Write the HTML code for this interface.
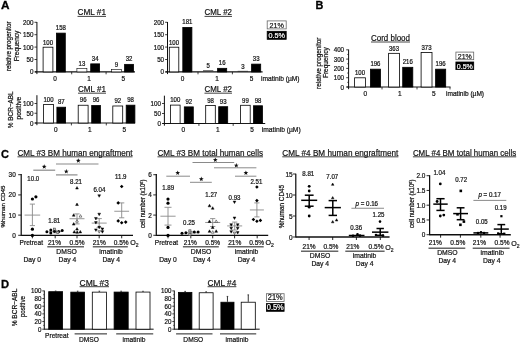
<!DOCTYPE html>
<html><head><meta charset="utf-8"><title>Figure</title>
<style>
html,body{margin:0;padding:0;background:#fff;}
body{width:520px;height:343px;overflow:hidden;font-family:"Liberation Sans",sans-serif;}
svg{display:block;will-change:transform;font-family:"Liberation Sans",sans-serif;}
</style></head><body>
<svg width="520" height="343" viewBox="0 0 520 343">
<defs><filter id="bl" x="0" y="0" width="100%" height="100%" filterUnits="userSpaceOnUse"><feGaussianBlur stdDeviation="0.38"/></filter></defs>
<rect x="0" y="0" width="520" height="343" fill="#fff"/>
<g filter="url(#bl)">
<text transform="translate(1,9.3) scale(1,1)" font-size="11.8" font-weight="bold" fill="#000" stroke="#000" stroke-width="0.3">A</text>
<text x="91.75" y="15.3" font-size="8.8" text-anchor="middle" fill="#111" stroke="#111" stroke-width="0.2" textLength="28.5" lengthAdjust="spacingAndGlyphs">CML #1</text>
<line x1="77.5" y1="16.4" x2="106" y2="16.4" stroke="#111" stroke-width="0.8"/>
<text transform="translate(10.5,46.3) rotate(-90) scale(0.94,1)" font-size="6.6" text-anchor="middle" fill="#111" stroke="#111" stroke-width="0.22">relative progenitor</text>
<text transform="translate(18.8,46) rotate(-90) scale(0.93,1)" font-size="7" text-anchor="middle" fill="#111" stroke="#111" stroke-width="0.22">Frequency</text>
<line x1="36.9" y1="22" x2="36.9" y2="74.1" stroke="#111" stroke-width="1.0"/>
<line x1="34.9" y1="71.9" x2="135" y2="71.9" stroke="#111" stroke-width="1.1"/>
<line x1="34.5" y1="71.9" x2="36.9" y2="71.9" stroke="#111" stroke-width="0.8"/>
<text transform="translate(33.5,74.49) scale(0.87,1)" font-size="7.2" text-anchor="end" fill="#111" stroke="#111" stroke-width="0.22">0</text>
<line x1="34.5" y1="59.5" x2="36.9" y2="59.5" stroke="#111" stroke-width="0.8"/>
<text transform="translate(33.5,62.09) scale(0.87,1)" font-size="7.2" text-anchor="end" fill="#111" stroke="#111" stroke-width="0.22">50</text>
<line x1="34.5" y1="47.1" x2="36.9" y2="47.1" stroke="#111" stroke-width="0.8"/>
<text transform="translate(33.5,49.69) scale(0.87,1)" font-size="7.2" text-anchor="end" fill="#111" stroke="#111" stroke-width="0.22">100</text>
<line x1="34.5" y1="34.7" x2="36.9" y2="34.7" stroke="#111" stroke-width="0.8"/>
<text transform="translate(33.5,37.29) scale(0.87,1)" font-size="7.2" text-anchor="end" fill="#111" stroke="#111" stroke-width="0.22">150</text>
<line x1="34.5" y1="22.3" x2="36.9" y2="22.3" stroke="#111" stroke-width="0.8"/>
<text transform="translate(33.5,24.89) scale(0.87,1)" font-size="7.2" text-anchor="end" fill="#111" stroke="#111" stroke-width="0.22">200</text>
<line x1="71.7" y1="71.9" x2="71.7" y2="74.3" stroke="#111" stroke-width="0.8"/>
<line x1="106.1" y1="71.9" x2="106.1" y2="74.3" stroke="#111" stroke-width="0.8"/>
<rect x="43.1" y="47.2" width="9.8" height="24.7" fill="#fff" stroke="#000" stroke-width="0.8"/>
<text transform="translate(48,44.5) scale(0.9,1)" font-size="6.7" text-anchor="middle" fill="#111" stroke="#111" stroke-width="0.22">100</text>
<rect x="56.4" y="33.12" width="8.9" height="38.78" fill="#000" stroke="#000" stroke-width="0.8"/>
<text transform="translate(60.85,30.12) scale(0.9,1)" font-size="6.7" text-anchor="middle" fill="#111" stroke="#111" stroke-width="0.22">158</text>
<rect x="76.9" y="68.58" width="10" height="3.32" fill="#fff" stroke="#000" stroke-width="0.6"/>
<text transform="translate(81.9,66.08) scale(0.9,1)" font-size="6.7" text-anchor="middle" fill="#111" stroke="#111" stroke-width="0.22">13</text>
<rect x="90.7" y="63.87" width="8.9" height="8.03" fill="#000" stroke="#000" stroke-width="0.8"/>
<text transform="translate(95.15,60.87) scale(0.9,1)" font-size="6.7" text-anchor="middle" fill="#111" stroke="#111" stroke-width="0.22">34</text>
<rect x="111.5" y="69.57" width="10" height="2.33" fill="#fff" stroke="#000" stroke-width="0.6"/>
<text transform="translate(116.5,67.07) scale(0.9,1)" font-size="6.7" text-anchor="middle" fill="#111" stroke="#111" stroke-width="0.22">9</text>
<rect x="124.6" y="64.36" width="8.9" height="7.54" fill="#000" stroke="#000" stroke-width="0.8"/>
<text transform="translate(129.05,61.36) scale(0.9,1)" font-size="6.7" text-anchor="middle" fill="#111" stroke="#111" stroke-width="0.22">32</text>
<text transform="translate(55,81) scale(0.9,1)" font-size="7.2" text-anchor="middle" fill="#111" stroke="#111" stroke-width="0.22">0</text>
<text transform="translate(89,81) scale(0.9,1)" font-size="7.2" text-anchor="middle" fill="#111" stroke="#111" stroke-width="0.22">1</text>
<text transform="translate(123.4,81) scale(0.9,1)" font-size="7.2" text-anchor="middle" fill="#111" stroke="#111" stroke-width="0.22">5</text>
<text x="218.25" y="15.3" font-size="8.8" text-anchor="middle" fill="#111" stroke="#111" stroke-width="0.2" textLength="27.5" lengthAdjust="spacingAndGlyphs">CML #2</text>
<line x1="204.5" y1="16.4" x2="232" y2="16.4" stroke="#111" stroke-width="0.8"/>
<line x1="167.5" y1="22" x2="167.5" y2="74.1" stroke="#111" stroke-width="1.0"/>
<line x1="165.5" y1="71.9" x2="262.6" y2="71.9" stroke="#111" stroke-width="1.1"/>
<line x1="165.1" y1="71.9" x2="167.5" y2="71.9" stroke="#111" stroke-width="0.8"/>
<text transform="translate(164.1,74.49) scale(0.87,1)" font-size="7.2" text-anchor="end" fill="#111" stroke="#111" stroke-width="0.22">0</text>
<line x1="165.1" y1="59.5" x2="167.5" y2="59.5" stroke="#111" stroke-width="0.8"/>
<text transform="translate(164.1,62.09) scale(0.87,1)" font-size="7.2" text-anchor="end" fill="#111" stroke="#111" stroke-width="0.22">50</text>
<line x1="165.1" y1="47.1" x2="167.5" y2="47.1" stroke="#111" stroke-width="0.8"/>
<text transform="translate(164.1,49.69) scale(0.87,1)" font-size="7.2" text-anchor="end" fill="#111" stroke="#111" stroke-width="0.22">100</text>
<line x1="165.1" y1="34.7" x2="167.5" y2="34.7" stroke="#111" stroke-width="0.8"/>
<text transform="translate(164.1,37.29) scale(0.87,1)" font-size="7.2" text-anchor="end" fill="#111" stroke="#111" stroke-width="0.22">150</text>
<line x1="165.1" y1="22.3" x2="167.5" y2="22.3" stroke="#111" stroke-width="0.8"/>
<text transform="translate(164.1,24.89) scale(0.87,1)" font-size="7.2" text-anchor="end" fill="#111" stroke="#111" stroke-width="0.22">200</text>
<line x1="198" y1="71.9" x2="198" y2="74.3" stroke="#111" stroke-width="0.8"/>
<line x1="232.4" y1="71.9" x2="232.4" y2="74.3" stroke="#111" stroke-width="0.8"/>
<rect x="169.3" y="47.2" width="9.5" height="24.7" fill="#fff" stroke="#000" stroke-width="0.8"/>
<text transform="translate(174.05,44.5) scale(0.9,1)" font-size="6.7" text-anchor="middle" fill="#111" stroke="#111" stroke-width="0.22">100</text>
<rect x="182.8" y="27.41" width="9.1" height="44.49" fill="#000" stroke="#000" stroke-width="0.8"/>
<text transform="translate(187.35,24.41) scale(0.9,1)" font-size="6.7" text-anchor="middle" fill="#111" stroke="#111" stroke-width="0.22">181</text>
<rect x="203" y="70.36" width="10.3" height="1" fill="#333" stroke="none" stroke-width="0"/>
<text transform="translate(208.15,68.06) scale(0.9,1)" font-size="6.7" text-anchor="middle" fill="#111" stroke="#111" stroke-width="0.22">5</text>
<rect x="217.6" y="68.33" width="9.1" height="3.57" fill="#000" stroke="#000" stroke-width="0.8"/>
<text transform="translate(222.15,65.33) scale(0.9,1)" font-size="6.7" text-anchor="middle" fill="#111" stroke="#111" stroke-width="0.22">16</text>
<rect x="237.7" y="70.86" width="10.3" height="1" fill="#333" stroke="none" stroke-width="0"/>
<text transform="translate(242.85,68.56) scale(0.9,1)" font-size="6.7" text-anchor="middle" fill="#111" stroke="#111" stroke-width="0.22">3</text>
<rect x="251.6" y="64.12" width="9.1" height="7.78" fill="#000" stroke="#000" stroke-width="0.8"/>
<text transform="translate(256.15,61.12) scale(0.9,1)" font-size="6.7" text-anchor="middle" fill="#111" stroke="#111" stroke-width="0.22">33</text>
<text transform="translate(182.5,81) scale(0.9,1)" font-size="7.2" text-anchor="middle" fill="#111" stroke="#111" stroke-width="0.22">0</text>
<text transform="translate(217,81) scale(0.9,1)" font-size="7.2" text-anchor="middle" fill="#111" stroke="#111" stroke-width="0.22">1</text>
<text transform="translate(251.5,81) scale(0.9,1)" font-size="7.2" text-anchor="middle" fill="#111" stroke="#111" stroke-width="0.22">5</text>
<text transform="translate(261,80.6) scale(0.9,1)" font-size="7.4" fill="#111" stroke="#111" stroke-width="0.22">imatinib (µM)</text>
<rect x="267.2" y="20.9" width="19" height="8" fill="#fff" stroke="#666" stroke-width="0.8"/>
<text transform="translate(276.7,27.7) scale(0.9,1)" font-size="8" text-anchor="middle" fill="#111" stroke="#111" stroke-width="0.22">21%</text>
<rect x="267.2" y="31.3" width="19" height="8" fill="#000" stroke="#000" stroke-width="0.8"/>
<text transform="translate(276.7,38.2) scale(0.9,1)" font-size="8" text-anchor="middle" fill="#fff" stroke="#fff" stroke-width="0.22">0.5%</text>
<text x="92" y="92.1" font-size="8.8" text-anchor="middle" fill="#111" stroke="#111" stroke-width="0.2" textLength="28" lengthAdjust="spacingAndGlyphs">CML #1</text>
<line x1="78" y1="93.2" x2="106" y2="93.2" stroke="#111" stroke-width="0.8"/>
<text transform="translate(12.7,109.8) rotate(-90) scale(0.92,1)" font-size="7" text-anchor="middle" fill="#111" stroke="#111" stroke-width="0.22">% BCR−ABL</text>
<text transform="translate(20.8,108.1) rotate(-90) scale(0.96,1)" font-size="7" text-anchor="middle" fill="#111" stroke="#111" stroke-width="0.22">positive</text>
<line x1="36.9" y1="95.2" x2="36.9" y2="125.2" stroke="#111" stroke-width="1.0"/>
<line x1="34.9" y1="123" x2="135" y2="123" stroke="#111" stroke-width="1.1"/>
<line x1="34.5" y1="123" x2="36.9" y2="123" stroke="#111" stroke-width="0.8"/>
<text transform="translate(33.5,125.59) scale(0.87,1)" font-size="7.2" text-anchor="end" fill="#111" stroke="#111" stroke-width="0.22">0</text>
<line x1="34.5" y1="113.25" x2="36.9" y2="113.25" stroke="#111" stroke-width="0.8"/>
<text transform="translate(33.5,115.84) scale(0.87,1)" font-size="7.2" text-anchor="end" fill="#111" stroke="#111" stroke-width="0.22">50</text>
<line x1="34.5" y1="103.5" x2="36.9" y2="103.5" stroke="#111" stroke-width="0.8"/>
<text transform="translate(33.5,106.09) scale(0.87,1)" font-size="7.2" text-anchor="end" fill="#111" stroke="#111" stroke-width="0.22">100</text>
<line x1="71.4" y1="123" x2="71.4" y2="125.4" stroke="#111" stroke-width="0.8"/>
<line x1="106.3" y1="123" x2="106.3" y2="125.4" stroke="#111" stroke-width="0.8"/>
<rect x="43.6" y="104.5" width="9.9" height="18.5" fill="#fff" stroke="#000" stroke-width="0.8"/>
<text transform="translate(48.55,101.6) scale(0.9,1)" font-size="6.7" text-anchor="middle" fill="#111" stroke="#111" stroke-width="0.22">100</text>
<rect x="56.9" y="107.22" width="8.7" height="15.78" fill="#000" stroke="#000" stroke-width="0.8"/>
<text transform="translate(61.25,104.02) scale(0.9,1)" font-size="6.7" text-anchor="middle" fill="#111" stroke="#111" stroke-width="0.22">87</text>
<rect x="78.2" y="105.24" width="9.9" height="17.76" fill="#fff" stroke="#000" stroke-width="0.8"/>
<text transform="translate(83.15,102.34) scale(0.9,1)" font-size="6.7" text-anchor="middle" fill="#111" stroke="#111" stroke-width="0.22">96</text>
<rect x="91.7" y="105.54" width="8.7" height="17.46" fill="#000" stroke="#000" stroke-width="0.8"/>
<text transform="translate(96.05,102.34) scale(0.9,1)" font-size="6.7" text-anchor="middle" fill="#111" stroke="#111" stroke-width="0.22">96</text>
<rect x="112.8" y="105.99" width="9.9" height="17.01" fill="#fff" stroke="#000" stroke-width="0.8"/>
<text transform="translate(117.75,103.09) scale(0.9,1)" font-size="6.7" text-anchor="middle" fill="#111" stroke="#111" stroke-width="0.22">92</text>
<rect x="126.2" y="105.17" width="8.7" height="17.83" fill="#000" stroke="#000" stroke-width="0.8"/>
<text transform="translate(130.55,101.97) scale(0.9,1)" font-size="6.7" text-anchor="middle" fill="#111" stroke="#111" stroke-width="0.22">98</text>
<text transform="translate(55.8,132) scale(0.9,1)" font-size="7.2" text-anchor="middle" fill="#111" stroke="#111" stroke-width="0.22">0</text>
<text transform="translate(89.9,132) scale(0.9,1)" font-size="7.2" text-anchor="middle" fill="#111" stroke="#111" stroke-width="0.22">1</text>
<text transform="translate(124.2,132) scale(0.9,1)" font-size="7.2" text-anchor="middle" fill="#111" stroke="#111" stroke-width="0.22">5</text>
<text x="218.25" y="92.1" font-size="8.8" text-anchor="middle" fill="#111" stroke="#111" stroke-width="0.2" textLength="27.5" lengthAdjust="spacingAndGlyphs">CML #2</text>
<line x1="204.5" y1="93.2" x2="232" y2="93.2" stroke="#111" stroke-width="0.8"/>
<line x1="164.4" y1="95.7" x2="164.4" y2="125.7" stroke="#111" stroke-width="1.0"/>
<line x1="162.4" y1="123.5" x2="265.2" y2="123.5" stroke="#111" stroke-width="1.1"/>
<line x1="162" y1="123.5" x2="164.4" y2="123.5" stroke="#111" stroke-width="0.8"/>
<text transform="translate(161,126.09) scale(0.87,1)" font-size="7.2" text-anchor="end" fill="#111" stroke="#111" stroke-width="0.22">0</text>
<line x1="162" y1="113.5" x2="164.4" y2="113.5" stroke="#111" stroke-width="0.8"/>
<text transform="translate(161,116.09) scale(0.87,1)" font-size="7.2" text-anchor="end" fill="#111" stroke="#111" stroke-width="0.22">50</text>
<line x1="162" y1="103.5" x2="164.4" y2="103.5" stroke="#111" stroke-width="0.8"/>
<text transform="translate(161,106.09) scale(0.87,1)" font-size="7.2" text-anchor="end" fill="#111" stroke="#111" stroke-width="0.22">100</text>
<line x1="198.9" y1="123.5" x2="198.9" y2="125.9" stroke="#111" stroke-width="0.8"/>
<line x1="233.2" y1="123.5" x2="233.2" y2="125.9" stroke="#111" stroke-width="0.8"/>
<rect x="170.5" y="105.1" width="9.6" height="18.4" fill="#fff" stroke="#000" stroke-width="0.8"/>
<text transform="translate(175.3,102.4) scale(0.9,1)" font-size="6.7" text-anchor="middle" fill="#111" stroke="#111" stroke-width="0.22">100</text>
<rect x="184.3" y="106.88" width="9" height="16.62" fill="#000" stroke="#000" stroke-width="0.8"/>
<text transform="translate(188.8,103.88) scale(0.9,1)" font-size="6.7" text-anchor="middle" fill="#111" stroke="#111" stroke-width="0.22">92</text>
<rect x="205.7" y="105.47" width="9.6" height="18.03" fill="#fff" stroke="#000" stroke-width="0.8"/>
<text transform="translate(210.5,102.77) scale(0.9,1)" font-size="6.7" text-anchor="middle" fill="#111" stroke="#111" stroke-width="0.22">98</text>
<rect x="218.7" y="106.7" width="9" height="16.8" fill="#000" stroke="#000" stroke-width="0.8"/>
<text transform="translate(223.2,103.7) scale(0.9,1)" font-size="6.7" text-anchor="middle" fill="#111" stroke="#111" stroke-width="0.22">93</text>
<rect x="240.6" y="105.29" width="9.6" height="18.21" fill="#fff" stroke="#000" stroke-width="0.8"/>
<text transform="translate(245.4,102.59) scale(0.9,1)" font-size="6.7" text-anchor="middle" fill="#111" stroke="#111" stroke-width="0.22">99</text>
<rect x="253.5" y="105.77" width="9" height="17.73" fill="#000" stroke="#000" stroke-width="0.8"/>
<text transform="translate(258,102.77) scale(0.9,1)" font-size="6.7" text-anchor="middle" fill="#111" stroke="#111" stroke-width="0.22">98</text>
<text transform="translate(183.4,132) scale(0.9,1)" font-size="7.2" text-anchor="middle" fill="#111" stroke="#111" stroke-width="0.22">0</text>
<text transform="translate(217.9,132) scale(0.9,1)" font-size="7.2" text-anchor="middle" fill="#111" stroke="#111" stroke-width="0.22">1</text>
<text transform="translate(252.1,132) scale(0.9,1)" font-size="7.2" text-anchor="middle" fill="#111" stroke="#111" stroke-width="0.22">5</text>
<text transform="translate(261.8,131.6) scale(0.9,1)" font-size="7.45" fill="#111" stroke="#111" stroke-width="0.22">imatinib (µM)</text>
<text transform="translate(315.4,9.1) scale(0.94,1)" font-size="11.6" font-weight="bold" fill="#000" stroke="#000" stroke-width="0.3">B</text>
<text x="390.5" y="40.9" font-size="8.8" text-anchor="middle" fill="#111" stroke="#111" stroke-width="0.2" textLength="39" lengthAdjust="spacingAndGlyphs">Cord blood</text>
<line x1="371" y1="42" x2="410" y2="42" stroke="#111" stroke-width="0.8"/>
<text transform="translate(320.9,63.3) rotate(-90) scale(0.975,1)" font-size="6.6" text-anchor="middle" fill="#111" stroke="#111" stroke-width="0.22">relative progenitor</text>
<text transform="translate(328,62.7) rotate(-90) scale(0.99,1)" font-size="6.6" text-anchor="middle" fill="#111" stroke="#111" stroke-width="0.22">Frequency</text>
<line x1="348.6" y1="49.5" x2="348.6" y2="89.2" stroke="#111" stroke-width="1.0"/>
<line x1="346.6" y1="87" x2="450.5" y2="87" stroke="#111" stroke-width="1.1"/>
<line x1="346.2" y1="87" x2="348.6" y2="87" stroke="#111" stroke-width="0.8"/>
<text transform="translate(344.1,89.59) scale(0.87,1)" font-size="7.2" text-anchor="end" fill="#111" stroke="#111" stroke-width="0.22">0</text>
<line x1="346.2" y1="77.7" x2="348.6" y2="77.7" stroke="#111" stroke-width="0.8"/>
<text transform="translate(344.1,80.29) scale(0.87,1)" font-size="7.2" text-anchor="end" fill="#111" stroke="#111" stroke-width="0.22">100</text>
<line x1="346.2" y1="68.4" x2="348.6" y2="68.4" stroke="#111" stroke-width="0.8"/>
<text transform="translate(344.1,70.99) scale(0.87,1)" font-size="7.2" text-anchor="end" fill="#111" stroke="#111" stroke-width="0.22">200</text>
<line x1="346.2" y1="59.1" x2="348.6" y2="59.1" stroke="#111" stroke-width="0.8"/>
<text transform="translate(344.1,61.69) scale(0.87,1)" font-size="7.2" text-anchor="end" fill="#111" stroke="#111" stroke-width="0.22">300</text>
<line x1="346.2" y1="49.8" x2="348.6" y2="49.8" stroke="#111" stroke-width="0.8"/>
<text transform="translate(344.1,52.39) scale(0.87,1)" font-size="7.2" text-anchor="end" fill="#111" stroke="#111" stroke-width="0.22">400</text>
<line x1="347.1" y1="82.35" x2="348.6" y2="82.35" stroke="#111" stroke-width="0.6"/>
<line x1="347.1" y1="73.05" x2="348.6" y2="73.05" stroke="#111" stroke-width="0.6"/>
<line x1="347.1" y1="63.75" x2="348.6" y2="63.75" stroke="#111" stroke-width="0.6"/>
<line x1="347.1" y1="54.45" x2="348.6" y2="54.45" stroke="#111" stroke-width="0.6"/>
<line x1="382" y1="87" x2="382" y2="89.4" stroke="#111" stroke-width="0.8"/>
<line x1="417" y1="87" x2="417" y2="89.4" stroke="#111" stroke-width="0.8"/>
<line x1="450" y1="87" x2="450" y2="89.4" stroke="#111" stroke-width="0.8"/>
<rect x="354.6" y="77.8" width="10.9" height="9.2" fill="#fff" stroke="#000" stroke-width="0.8"/>
<text transform="translate(360.05,75) scale(0.9,1)" font-size="6.7" text-anchor="middle" fill="#111" stroke="#111" stroke-width="0.22">100</text>
<rect x="370.4" y="69.17" width="10.1" height="17.83" fill="#000" stroke="#000" stroke-width="0.8"/>
<text transform="translate(375.45,66.07) scale(0.9,1)" font-size="6.7" text-anchor="middle" fill="#111" stroke="#111" stroke-width="0.22">196</text>
<rect x="388.6" y="53.34" width="10.9" height="33.66" fill="#fff" stroke="#000" stroke-width="0.8"/>
<text transform="translate(394.05,50.54) scale(0.9,1)" font-size="6.7" text-anchor="middle" fill="#111" stroke="#111" stroke-width="0.22">363</text>
<rect x="402.7" y="67.31" width="10.1" height="19.69" fill="#000" stroke="#000" stroke-width="0.8"/>
<text transform="translate(407.75,64.21) scale(0.9,1)" font-size="6.7" text-anchor="middle" fill="#111" stroke="#111" stroke-width="0.22">216</text>
<rect x="421.1" y="52.41" width="10.9" height="34.59" fill="#fff" stroke="#000" stroke-width="0.8"/>
<text transform="translate(426.55,49.61) scale(0.9,1)" font-size="6.7" text-anchor="middle" fill="#111" stroke="#111" stroke-width="0.22">373</text>
<rect x="435.6" y="69.17" width="10.1" height="17.83" fill="#000" stroke="#000" stroke-width="0.8"/>
<text transform="translate(440.65,66.07) scale(0.9,1)" font-size="6.7" text-anchor="middle" fill="#111" stroke="#111" stroke-width="0.22">196</text>
<text transform="translate(365.2,96.3) scale(0.9,1)" font-size="7.2" text-anchor="middle" fill="#111" stroke="#111" stroke-width="0.22">0</text>
<text transform="translate(399.9,96.3) scale(0.9,1)" font-size="7.2" text-anchor="middle" fill="#111" stroke="#111" stroke-width="0.22">1</text>
<text transform="translate(433.8,96.3) scale(0.9,1)" font-size="7.2" text-anchor="middle" fill="#111" stroke="#111" stroke-width="0.22">5</text>
<text transform="translate(446,96.3) scale(0.9,1)" font-size="7.3" fill="#111" stroke="#111" stroke-width="0.22">imatinib (µM)</text>
<rect x="455.9" y="52.1" width="17.8" height="7.6" fill="#fff" stroke="#666" stroke-width="0.8"/>
<text transform="translate(464.8,58.5) scale(0.9,1)" font-size="7.8" text-anchor="middle" fill="#111" stroke="#111" stroke-width="0.22">21%</text>
<rect x="455.9" y="62" width="17.8" height="7.6" fill="#000" stroke="#000" stroke-width="0.8"/>
<text transform="translate(464.8,68.5) scale(0.9,1)" font-size="7.8" text-anchor="middle" fill="#fff" stroke="#fff" stroke-width="0.22">0.5%</text>
<text transform="translate(1,158.3) scale(0.93,1)" font-size="11.8" font-weight="bold" fill="#000" stroke="#000" stroke-width="0.3">C</text>
<text x="75" y="155.7" font-size="8.8" text-anchor="middle" fill="#111" stroke="#111" stroke-width="0.2" textLength="115" lengthAdjust="spacingAndGlyphs">CML #3 BM human engraftment</text>
<line x1="17.5" y1="156.8" x2="132.5" y2="156.8" stroke="#111" stroke-width="0.8"/>
<text transform="translate(5.3,206.5) rotate(-90) scale(1.0,1)" font-size="6.2" text-anchor="middle" fill="#111" stroke="#111" stroke-width="0.22">%human CD45</text>
<line x1="21.2" y1="174.1" x2="21.2" y2="235.9" stroke="#111" stroke-width="1.25"/>
<line x1="21.2" y1="235.3" x2="133" y2="235.3" stroke="#111" stroke-width="1.35"/>
<line x1="18.2" y1="235.3" x2="21.2" y2="235.3" stroke="#111" stroke-width="0.9"/>
<text transform="translate(15.8,237.89) scale(0.9,1)" font-size="7.2" text-anchor="end" fill="#111" stroke="#111" stroke-width="0.22">0</text>
<line x1="18.2" y1="215.1" x2="21.2" y2="215.1" stroke="#111" stroke-width="0.9"/>
<text transform="translate(15.8,217.69) scale(0.9,1)" font-size="7.2" text-anchor="end" fill="#111" stroke="#111" stroke-width="0.22">10</text>
<line x1="18.2" y1="194.9" x2="21.2" y2="194.9" stroke="#111" stroke-width="0.9"/>
<text transform="translate(15.8,197.49) scale(0.9,1)" font-size="7.2" text-anchor="end" fill="#111" stroke="#111" stroke-width="0.22">20</text>
<line x1="18.2" y1="174.7" x2="21.2" y2="174.7" stroke="#111" stroke-width="0.9"/>
<text transform="translate(15.8,177.29) scale(0.9,1)" font-size="7.2" text-anchor="end" fill="#111" stroke="#111" stroke-width="0.22">30</text>
<line x1="32.4" y1="235.3" x2="32.4" y2="238.3" stroke="#111" stroke-width="0.9"/>
<line x1="55.2" y1="235.3" x2="55.2" y2="238.3" stroke="#111" stroke-width="0.9"/>
<line x1="77" y1="235.3" x2="77" y2="238.3" stroke="#111" stroke-width="0.9"/>
<line x1="99.2" y1="235.3" x2="99.2" y2="238.3" stroke="#111" stroke-width="0.9"/>
<line x1="121.7" y1="235.3" x2="121.7" y2="238.3" stroke="#111" stroke-width="0.9"/>
<text transform="translate(31.3,244.6) scale(0.9,1)" font-size="7.3" text-anchor="middle" fill="#111" stroke="#111" stroke-width="0.22">Pretreat</text>
<text transform="translate(54.5,244.6) scale(0.9,1)" font-size="7.3" text-anchor="middle" fill="#111" stroke="#111" stroke-width="0.22">21%</text>
<text transform="translate(77,244.6) scale(0.9,1)" font-size="7.3" text-anchor="middle" fill="#111" stroke="#111" stroke-width="0.22">0.5%</text>
<text transform="translate(99.2,244.6) scale(0.9,1)" font-size="7.3" text-anchor="middle" fill="#111" stroke="#111" stroke-width="0.22">21%</text>
<text transform="translate(121.2,244.6) scale(0.9,1)" font-size="7.3" text-anchor="middle" fill="#111" stroke="#111" stroke-width="0.22">0.5%</text>
<line x1="47.3" y1="246.7" x2="84" y2="246.7" stroke="#666" stroke-width="1.4"/>
<line x1="92.8" y1="246.7" x2="127.8" y2="246.7" stroke="#666" stroke-width="1.4"/>
<text transform="translate(66.6,254.4) scale(0.9,1)" font-size="7.6" text-anchor="middle" fill="#111" stroke="#111" stroke-width="0.22">DMSO</text>
<text transform="translate(111,254.4) scale(0.9,1)" font-size="7.6" text-anchor="middle" fill="#111" stroke="#111" stroke-width="0.22">imatinib</text>
<text transform="translate(32.2,261.5) scale(0.9,1)" font-size="7.5" text-anchor="middle" fill="#111" stroke="#111" stroke-width="0.22">Day 0</text>
<text transform="translate(67.4,261.5) scale(0.9,1)" font-size="7.5" text-anchor="middle" fill="#111" stroke="#111" stroke-width="0.22">Day 4</text>
<text transform="translate(111.3,261.5) scale(0.9,1)" font-size="7.5" text-anchor="middle" fill="#111" stroke="#111" stroke-width="0.22">Day 4</text>
<text transform="translate(130.2,245.4) scale(0.9,1)" font-size="7.9" fill="#111" stroke="#111" stroke-width="0.22">O<tspan font-size="5.6" dy="2">2</tspan></text>
<line x1="33.3" y1="170.2" x2="55.2" y2="170.2" stroke="#8a8a8a" stroke-width="1.2"/>
<polygon points="44.2,164.2 44.82,165.85 46.58,165.93 45.2,167.02 45.67,168.72 44.2,167.75 42.73,168.72 43.2,167.02 41.82,165.93 43.58,165.85" fill="#111"/>
<line x1="56" y1="164" x2="98.5" y2="164" stroke="#8a8a8a" stroke-width="1.2"/>
<polygon points="78.3,158.2 78.92,159.85 80.68,159.93 79.3,161.02 79.77,162.72 78.3,161.75 76.83,162.72 77.3,161.02 75.92,159.93 77.68,159.85" fill="#111"/>
<line x1="56" y1="174.9" x2="77.5" y2="174.9" stroke="#8a8a8a" stroke-width="1.2"/>
<polygon points="66.3,169 66.92,170.65 68.68,170.73 67.3,171.82 67.77,173.52 66.3,172.55 64.83,173.52 65.3,171.82 63.92,170.73 65.68,170.65" fill="#111"/>
<text transform="translate(33.3,181.4) scale(0.9,1)" font-size="6.8" text-anchor="middle" fill="#111" stroke="#111" stroke-width="0.22">10.0</text>
<text transform="translate(76,184.2) scale(0.9,1)" font-size="6.8" text-anchor="middle" fill="#111" stroke="#111" stroke-width="0.22">8.21</text>
<text transform="translate(54.3,223.4) scale(0.9,1)" font-size="6.8" text-anchor="middle" fill="#111" stroke="#111" stroke-width="0.22">1.81</text>
<text transform="translate(99.4,192.4) scale(0.9,1)" font-size="6.8" text-anchor="middle" fill="#111" stroke="#111" stroke-width="0.22">6.04</text>
<text transform="translate(120.8,178.9) scale(0.9,1)" font-size="6.8" text-anchor="middle" fill="#111" stroke="#111" stroke-width="0.22">11.9</text>
<line x1="24.6" y1="215.1" x2="40.2" y2="215.1" stroke="#8a8a8a" stroke-width="0.9"/>
<line x1="32.4" y1="204.1" x2="32.4" y2="225.6" stroke="#8a8a8a" stroke-width="0.9"/>
<line x1="29.8" y1="204.1" x2="35" y2="204.1" stroke="#8a8a8a" stroke-width="0.9"/>
<line x1="29.8" y1="225.6" x2="35" y2="225.6" stroke="#8a8a8a" stroke-width="0.9"/>
<circle cx="32.4" cy="199" r="1.6" fill="#000"/>
<circle cx="35.9" cy="196.8" r="1.6" fill="#000"/>
<circle cx="32.4" cy="229.2" r="1.6" fill="#000"/>
<circle cx="32.4" cy="235.4" r="1.6" fill="#000"/>
<line x1="49.2" y1="231.64" x2="61.2" y2="231.64" stroke="#8a8a8a" stroke-width="0.9"/>
<line x1="55.2" y1="230.4" x2="55.2" y2="232.8" stroke="#8a8a8a" stroke-width="0.9"/>
<line x1="53.2" y1="230.4" x2="57.2" y2="230.4" stroke="#8a8a8a" stroke-width="0.9"/>
<line x1="53.2" y1="232.8" x2="57.2" y2="232.8" stroke="#8a8a8a" stroke-width="0.9"/>
<circle cx="46.9" cy="231.8" r="1.5" fill="#000"/>
<circle cx="50.8" cy="230" r="1.5" fill="#000"/>
<circle cx="58.7" cy="231.6" r="1.5" fill="#000"/>
<circle cx="62.2" cy="230.5" r="1.5" fill="#000"/>
<circle cx="50.8" cy="233" r="1.5" fill="#000"/>
<rect x="53.4" y="228.1" width="2.2" height="2.2" fill="#bbb" stroke="#444" stroke-width="0.6"/>
<rect x="56.7" y="231.3" width="2.2" height="2.2" fill="#bbb" stroke="#444" stroke-width="0.6"/>
<circle cx="54.5" cy="231.6" r="1.4" fill="#000"/>
<line x1="69.5" y1="218.72" x2="84.5" y2="218.72" stroke="#8a8a8a" stroke-width="0.9"/>
<line x1="77" y1="213.9" x2="77" y2="223.9" stroke="#8a8a8a" stroke-width="0.9"/>
<line x1="74.4" y1="213.9" x2="79.6" y2="213.9" stroke="#8a8a8a" stroke-width="0.9"/>
<line x1="74.4" y1="223.9" x2="79.6" y2="223.9" stroke="#8a8a8a" stroke-width="0.9"/>
<path d="M77,186.5L78.4,189.02L75.6,189.02Z" fill="#000" stroke="#000" stroke-width="0.45"/>
<path d="M77,203L78.4,205.52L75.6,205.52Z" fill="#000" stroke="#000" stroke-width="0.45"/>
<path d="M73.7,213.7L75.1,216.22L72.3,216.22Z" fill="#000" stroke="#000" stroke-width="0.45"/>
<path d="M73.7,222.6L75.1,225.12L72.3,225.12Z" fill="#000" stroke="#000" stroke-width="0.45"/>
<path d="M77,227.6L78.4,230.12L75.6,230.12Z" fill="#000" stroke="#000" stroke-width="0.45"/>
<path d="M74.3,230.4L75.7,232.92L72.9,232.92Z" fill="#000" stroke="#000" stroke-width="0.45"/>
<path d="M77.2,230.8L78.6,233.32L75.8,233.32Z" fill="#000" stroke="#000" stroke-width="0.45"/>
<path d="M80.3,230.4L81.7,232.92L78.9,232.92Z" fill="#000" stroke="#000" stroke-width="0.45"/>
<path d="M80.5,214.6L81.9,217.12L79.1,217.12Z" fill="#fff" stroke="#000" stroke-width="0.45"/>
<path d="M77,219.6L78.4,222.12L75.6,222.12Z" fill="#fff" stroke="#000" stroke-width="0.45"/>
<line x1="91.7" y1="223.1" x2="106.7" y2="223.1" stroke="#8a8a8a" stroke-width="0.9"/>
<line x1="99.2" y1="218.6" x2="99.2" y2="227.4" stroke="#8a8a8a" stroke-width="0.9"/>
<line x1="96.6" y1="218.6" x2="101.8" y2="218.6" stroke="#8a8a8a" stroke-width="0.9"/>
<line x1="96.6" y1="227.4" x2="101.8" y2="227.4" stroke="#8a8a8a" stroke-width="0.9"/>
<path d="M99.2,197.3L100.6,194.78L97.8,194.78Z" fill="#000" stroke="#000" stroke-width="0.45"/>
<path d="M99.2,215.7L100.6,213.18L97.8,213.18Z" fill="#000" stroke="#000" stroke-width="0.45"/>
<path d="M95.9,220L97.3,217.48L94.5,217.48Z" fill="#000" stroke="#000" stroke-width="0.45"/>
<path d="M95.9,224.1L97.3,221.58L94.5,221.58Z" fill="#000" stroke="#000" stroke-width="0.45"/>
<path d="M95.9,231.4L97.3,228.88L94.5,228.88Z" fill="#000" stroke="#000" stroke-width="0.45"/>
<path d="M102.4,230.5L103.8,227.98L101,227.98Z" fill="#000" stroke="#000" stroke-width="0.45"/>
<path d="M99.2,228.8L100.6,226.28L97.8,226.28Z" fill="#000" stroke="#000" stroke-width="0.45"/>
<path d="M99.2,233.2L100.6,230.68L97.8,230.68Z" fill="#ddd" stroke="#000" stroke-width="0.45"/>
<path d="M102.4,233.2L103.8,230.68L101,230.68Z" fill="#000" stroke="#000" stroke-width="0.45"/>
<line x1="114.3" y1="211.26" x2="129.1" y2="211.26" stroke="#8a8a8a" stroke-width="0.9"/>
<line x1="121.7" y1="202.9" x2="121.7" y2="217.8" stroke="#8a8a8a" stroke-width="0.9"/>
<line x1="119.1" y1="202.9" x2="124.3" y2="202.9" stroke="#8a8a8a" stroke-width="0.9"/>
<line x1="119.1" y1="217.8" x2="124.3" y2="217.8" stroke="#8a8a8a" stroke-width="0.9"/>
<path d="M121.7,184.7L123.5,186.5L121.7,188.3L119.9,186.5Z" fill="#000"/>
<path d="M118.2,201.1L120,202.9L118.2,204.7L116.4,202.9Z" fill="#000"/>
<path d="M118.2,219.1L120,220.9L118.2,222.7L116.4,220.9Z" fill="#000"/>
<path d="M121.7,220.9L123.5,222.7L121.7,224.5L119.9,222.7Z" fill="#000"/>
<path d="M125.7,220.3L127.5,222.1L125.7,223.9L123.9,222.1Z" fill="#000"/>
<text x="210.25" y="155.7" font-size="8.8" text-anchor="middle" fill="#111" stroke="#111" stroke-width="0.2" textLength="105.5" lengthAdjust="spacingAndGlyphs">CML #3 BM total human cells</text>
<line x1="157.5" y1="156.8" x2="263" y2="156.8" stroke="#111" stroke-width="0.8"/>
<text transform="translate(145,203.8) rotate(-90) scale(0.91,1)" font-size="6.6" text-anchor="middle" fill="#111" stroke="#111" stroke-width="0.22">cell number (x10<tspan font-size="4.2" dy="-2">6</tspan><tspan dy="2">)</tspan></text>
<line x1="156.3" y1="174" x2="156.3" y2="235.9" stroke="#111" stroke-width="1.25"/>
<line x1="156.3" y1="235.3" x2="268.2" y2="235.3" stroke="#111" stroke-width="1.35"/>
<line x1="153.3" y1="235.3" x2="156.3" y2="235.3" stroke="#111" stroke-width="0.9"/>
<text transform="translate(151.8,237.89) scale(0.9,1)" font-size="7.2" text-anchor="end" fill="#111" stroke="#111" stroke-width="0.22">0</text>
<line x1="153.3" y1="215.1" x2="156.3" y2="215.1" stroke="#111" stroke-width="0.9"/>
<text transform="translate(151.8,217.69) scale(0.9,1)" font-size="7.2" text-anchor="end" fill="#111" stroke="#111" stroke-width="0.22">2</text>
<line x1="153.3" y1="194.9" x2="156.3" y2="194.9" stroke="#111" stroke-width="0.9"/>
<text transform="translate(151.8,197.49) scale(0.9,1)" font-size="7.2" text-anchor="end" fill="#111" stroke="#111" stroke-width="0.22">4</text>
<line x1="153.3" y1="174.7" x2="156.3" y2="174.7" stroke="#111" stroke-width="0.9"/>
<text transform="translate(151.8,177.29) scale(0.9,1)" font-size="7.2" text-anchor="end" fill="#111" stroke="#111" stroke-width="0.22">6</text>
<line x1="168" y1="235.3" x2="168" y2="238.3" stroke="#111" stroke-width="0.9"/>
<line x1="190.8" y1="235.3" x2="190.8" y2="238.3" stroke="#111" stroke-width="0.9"/>
<line x1="212.7" y1="235.3" x2="212.7" y2="238.3" stroke="#111" stroke-width="0.9"/>
<line x1="234.6" y1="235.3" x2="234.6" y2="238.3" stroke="#111" stroke-width="0.9"/>
<line x1="257.2" y1="235.3" x2="257.2" y2="238.3" stroke="#111" stroke-width="0.9"/>
<text transform="translate(166.5,244.6) scale(0.9,1)" font-size="7.3" text-anchor="middle" fill="#111" stroke="#111" stroke-width="0.22">Pretreat</text>
<text transform="translate(190.3,244.6) scale(0.9,1)" font-size="7.3" text-anchor="middle" fill="#111" stroke="#111" stroke-width="0.22">21%</text>
<text transform="translate(212.7,244.6) scale(0.9,1)" font-size="7.3" text-anchor="middle" fill="#111" stroke="#111" stroke-width="0.22">0.5%</text>
<text transform="translate(234.7,244.6) scale(0.9,1)" font-size="7.3" text-anchor="middle" fill="#111" stroke="#111" stroke-width="0.22">21%</text>
<text transform="translate(256.7,244.6) scale(0.9,1)" font-size="7.3" text-anchor="middle" fill="#111" stroke="#111" stroke-width="0.22">0.5%</text>
<line x1="182.9" y1="246.7" x2="218.8" y2="246.7" stroke="#666" stroke-width="1.4"/>
<line x1="227.6" y1="246.7" x2="263.7" y2="246.7" stroke="#666" stroke-width="1.4"/>
<text transform="translate(201,254.4) scale(0.9,1)" font-size="7.6" text-anchor="middle" fill="#111" stroke="#111" stroke-width="0.22">DMSO</text>
<text transform="translate(246.6,254.4) scale(0.9,1)" font-size="7.6" text-anchor="middle" fill="#111" stroke="#111" stroke-width="0.22">imatinib</text>
<text transform="translate(168,261.5) scale(0.9,1)" font-size="7.5" text-anchor="middle" fill="#111" stroke="#111" stroke-width="0.22">Day 0</text>
<text transform="translate(202,261.5) scale(0.9,1)" font-size="7.5" text-anchor="middle" fill="#111" stroke="#111" stroke-width="0.22">Day 4</text>
<text transform="translate(246.5,261.5) scale(0.9,1)" font-size="7.5" text-anchor="middle" fill="#111" stroke="#111" stroke-width="0.22">Day 4</text>
<text transform="translate(265.5,245.4) scale(0.9,1)" font-size="7.9" fill="#111" stroke="#111" stroke-width="0.22">O<tspan font-size="5.6" dy="2">2</tspan></text>
<line x1="166.3" y1="176.2" x2="190" y2="176.2" stroke="#8a8a8a" stroke-width="1"/>
<polygon points="177.7,170.4 178.32,172.05 180.08,172.13 178.7,173.22 179.17,174.92 177.7,173.95 176.23,174.92 176.7,173.22 175.32,172.13 177.08,172.05" fill="#111"/>
<line x1="190" y1="182.3" x2="211.8" y2="182.3" stroke="#8a8a8a" stroke-width="1"/>
<polygon points="201.3,176.6 201.92,178.25 203.68,178.33 202.3,179.42 202.77,181.12 201.3,180.15 199.83,181.12 200.3,179.42 198.92,178.33 200.68,178.25" fill="#111"/>
<line x1="192.5" y1="162.5" x2="234.2" y2="162.5" stroke="#8a8a8a" stroke-width="1"/>
<polygon points="215.3,157.4 215.92,159.05 217.68,159.13 216.3,160.22 216.77,161.92 215.3,160.95 213.83,161.92 214.3,160.22 212.92,159.13 214.68,159.05" fill="#111"/>
<line x1="214" y1="167.8" x2="256.4" y2="167.8" stroke="#8a8a8a" stroke-width="1"/>
<polygon points="236.3,163 236.92,164.65 238.68,164.73 237.3,165.82 237.77,167.52 236.3,166.55 234.83,167.52 235.3,165.82 233.92,164.73 235.68,164.65" fill="#111"/>
<line x1="235" y1="176.2" x2="256.4" y2="176.2" stroke="#8a8a8a" stroke-width="1"/>
<polygon points="245.9,170.4 246.52,172.05 248.28,172.13 246.9,173.22 247.37,174.92 245.9,173.95 244.43,174.92 244.9,173.22 243.52,172.13 245.28,172.05" fill="#111"/>
<text transform="translate(168.1,190.2) scale(0.9,1)" font-size="6.8" text-anchor="middle" fill="#111" stroke="#111" stroke-width="0.22">1.89</text>
<text transform="translate(189,225.4) scale(0.9,1)" font-size="6.8" text-anchor="middle" fill="#111" stroke="#111" stroke-width="0.22">0.25</text>
<text transform="translate(211.3,197) scale(0.9,1)" font-size="6.8" text-anchor="middle" fill="#111" stroke="#111" stroke-width="0.22">1.27</text>
<text transform="translate(234.5,199.6) scale(0.9,1)" font-size="6.8" text-anchor="middle" fill="#111" stroke="#111" stroke-width="0.22">0.93</text>
<text transform="translate(256.4,184.2) scale(0.9,1)" font-size="6.8" text-anchor="middle" fill="#111" stroke="#111" stroke-width="0.22">2.51</text>
<line x1="160.4" y1="216.21" x2="175.6" y2="216.21" stroke="#8a8a8a" stroke-width="0.9"/>
<line x1="168" y1="207.3" x2="168" y2="225.1" stroke="#8a8a8a" stroke-width="0.9"/>
<line x1="164.5" y1="207.3" x2="171.5" y2="207.3" stroke="#8a8a8a" stroke-width="0.9"/>
<line x1="164.5" y1="225.1" x2="171.5" y2="225.1" stroke="#8a8a8a" stroke-width="0.9"/>
<circle cx="168" cy="199.1" r="1.6" fill="#000"/>
<circle cx="168" cy="203.2" r="1.6" fill="#000"/>
<circle cx="168" cy="227.4" r="1.6" fill="#000"/>
<circle cx="168" cy="235.4" r="1.6" fill="#000"/>
<line x1="184.8" y1="232.78" x2="196.8" y2="232.78" stroke="#8a8a8a" stroke-width="0.9"/>
<line x1="190.8" y1="231.6" x2="190.8" y2="234" stroke="#8a8a8a" stroke-width="0.9"/>
<line x1="188.8" y1="231.6" x2="192.8" y2="231.6" stroke="#8a8a8a" stroke-width="0.9"/>
<line x1="188.8" y1="234" x2="192.8" y2="234" stroke="#8a8a8a" stroke-width="0.9"/>
<circle cx="182" cy="233.2" r="1.5" fill="#000"/>
<circle cx="185.9" cy="232.7" r="1.5" fill="#000"/>
<circle cx="194.3" cy="232.1" r="1.5" fill="#000"/>
<circle cx="198.1" cy="232.1" r="1.5" fill="#000"/>
<rect x="188.8" y="229.8" width="2.2" height="2.2" fill="#bbb" stroke="#444" stroke-width="0.6"/>
<rect x="188.8" y="233.5" width="2.2" height="2.2" fill="#bbb" stroke="#444" stroke-width="0.6"/>
<line x1="205.2" y1="222.47" x2="220.2" y2="222.47" stroke="#8a8a8a" stroke-width="0.9"/>
<line x1="212.7" y1="218.6" x2="212.7" y2="226.5" stroke="#8a8a8a" stroke-width="0.9"/>
<line x1="210.1" y1="218.6" x2="215.3" y2="218.6" stroke="#8a8a8a" stroke-width="0.9"/>
<line x1="210.1" y1="226.5" x2="215.3" y2="226.5" stroke="#8a8a8a" stroke-width="0.9"/>
<path d="M209.5,204.3L210.9,206.82L208.1,206.82Z" fill="#000" stroke="#000" stroke-width="0.45"/>
<path d="M212.7,206.7L214.1,209.22L211.3,209.22Z" fill="#000" stroke="#000" stroke-width="0.45"/>
<path d="M209.5,219.9L210.9,222.42L208.1,222.42Z" fill="#000" stroke="#000" stroke-width="0.45"/>
<path d="M212.7,226L214.1,228.52L211.3,228.52Z" fill="#000" stroke="#000" stroke-width="0.45"/>
<path d="M209.5,229.8L210.9,232.32L208.1,232.32Z" fill="#000" stroke="#000" stroke-width="0.45"/>
<path d="M216.2,229.8L217.6,232.32L214.8,232.32Z" fill="#000" stroke="#000" stroke-width="0.45"/>
<path d="M216.2,219.9L217.6,222.42L214.8,222.42Z" fill="#fff" stroke="#000" stroke-width="0.45"/>
<path d="M212.7,230.7L214.1,233.22L211.3,233.22Z" fill="#fff" stroke="#000" stroke-width="0.45"/>
<line x1="227.2" y1="225.91" x2="242.2" y2="225.91" stroke="#8a8a8a" stroke-width="0.9"/>
<line x1="234.7" y1="222.1" x2="234.7" y2="230" stroke="#8a8a8a" stroke-width="0.9"/>
<line x1="232.1" y1="222.1" x2="237.3" y2="222.1" stroke="#8a8a8a" stroke-width="0.9"/>
<line x1="232.1" y1="230" x2="237.3" y2="230" stroke="#8a8a8a" stroke-width="0.9"/>
<path d="M234.5,203.6L235.9,201.08L233.1,201.08Z" fill="#000" stroke="#000" stroke-width="0.45"/>
<path d="M234.5,219.5L235.9,216.98L233.1,216.98Z" fill="#000" stroke="#000" stroke-width="0.45"/>
<path d="M231.2,226.2L232.6,223.68L229.8,223.68Z" fill="#000" stroke="#000" stroke-width="0.45"/>
<path d="M237.7,226.2L239.1,223.68L236.3,223.68Z" fill="#000" stroke="#000" stroke-width="0.45"/>
<path d="M231.2,229.7L232.6,227.18L229.8,227.18Z" fill="#000" stroke="#000" stroke-width="0.45"/>
<path d="M231.2,233.2L232.6,230.68L229.8,230.68Z" fill="#000" stroke="#000" stroke-width="0.45"/>
<path d="M237.7,229.7L239.1,227.18L236.3,227.18Z" fill="#000" stroke="#000" stroke-width="0.45"/>
<path d="M234.5,234.6L235.9,232.08L233.1,232.08Z" fill="#ddd" stroke="#000" stroke-width="0.45"/>
<path d="M237.7,234.1L239.1,231.58L236.3,231.58Z" fill="#000" stroke="#000" stroke-width="0.45"/>
<line x1="249.9" y1="209.95" x2="263.9" y2="209.95" stroke="#8a8a8a" stroke-width="0.9"/>
<line x1="256.9" y1="202.9" x2="256.9" y2="216.9" stroke="#8a8a8a" stroke-width="0.9"/>
<line x1="254.3" y1="202.9" x2="259.5" y2="202.9" stroke="#8a8a8a" stroke-width="0.9"/>
<line x1="254.3" y1="216.9" x2="259.5" y2="216.9" stroke="#8a8a8a" stroke-width="0.9"/>
<path d="M256.9,185.2L258.7,187L256.9,188.8L255.1,187Z" fill="#000"/>
<path d="M256.9,198.8L258.7,200.6L256.9,202.4L255.1,200.6Z" fill="#000"/>
<path d="M253.4,217.7L255.2,219.5L253.4,221.3L251.6,219.5Z" fill="#000"/>
<path d="M256.9,219.5L258.7,221.3L256.9,223.1L255.1,221.3Z" fill="#000"/>
<path d="M260.4,218.6L262.2,220.4L260.4,222.2L258.6,220.4Z" fill="#000"/>
<text x="340.35" y="155.7" font-size="8.8" text-anchor="middle" fill="#111" stroke="#111" stroke-width="0.2" textLength="116.1" lengthAdjust="spacingAndGlyphs">CML #4 BM human engraftment</text>
<line x1="282.3" y1="156.8" x2="398.4" y2="156.8" stroke="#111" stroke-width="0.8"/>
<text transform="translate(284.3,206.5) rotate(-90) scale(1.0,1)" font-size="6.4" text-anchor="middle" fill="#111" stroke="#111" stroke-width="0.22">%human CD45</text>
<line x1="295.8" y1="173.8" x2="295.8" y2="237.6" stroke="#111" stroke-width="1.25"/>
<line x1="295.8" y1="237" x2="389.6" y2="237" stroke="#111" stroke-width="1.35"/>
<line x1="292.8" y1="237" x2="295.8" y2="237" stroke="#111" stroke-width="0.9"/>
<text transform="translate(292.6,239.59) scale(0.9,1)" font-size="7.2" text-anchor="end" fill="#111" stroke="#111" stroke-width="0.22">0</text>
<line x1="292.8" y1="216" x2="295.8" y2="216" stroke="#111" stroke-width="0.9"/>
<text transform="translate(292.6,218.59) scale(0.9,1)" font-size="7.2" text-anchor="end" fill="#111" stroke="#111" stroke-width="0.22">5</text>
<line x1="292.8" y1="195" x2="295.8" y2="195" stroke="#111" stroke-width="0.9"/>
<text transform="translate(292.6,197.59) scale(0.9,1)" font-size="7.2" text-anchor="end" fill="#111" stroke="#111" stroke-width="0.22">10</text>
<line x1="292.8" y1="174" x2="295.8" y2="174" stroke="#111" stroke-width="0.9"/>
<text transform="translate(292.6,176.59) scale(0.9,1)" font-size="7.2" text-anchor="end" fill="#111" stroke="#111" stroke-width="0.22">15</text>
<line x1="309.1" y1="237" x2="309.1" y2="240" stroke="#111" stroke-width="0.9"/>
<line x1="332.7" y1="237" x2="332.7" y2="240" stroke="#111" stroke-width="0.9"/>
<line x1="356.4" y1="237" x2="356.4" y2="240" stroke="#111" stroke-width="0.9"/>
<line x1="380.3" y1="237" x2="380.3" y2="240" stroke="#111" stroke-width="0.9"/>
<text transform="translate(309.1,249.1) scale(0.9,1)" font-size="7.3" text-anchor="middle" fill="#111" stroke="#111" stroke-width="0.22">21%</text>
<text transform="translate(330.9,249.1) scale(0.9,1)" font-size="7.3" text-anchor="middle" fill="#111" stroke="#111" stroke-width="0.22">0.5%</text>
<text transform="translate(352.8,249.1) scale(0.9,1)" font-size="7.3" text-anchor="middle" fill="#111" stroke="#111" stroke-width="0.22">21%</text>
<text transform="translate(376.1,249.1) scale(0.9,1)" font-size="7.3" text-anchor="middle" fill="#111" stroke="#111" stroke-width="0.22">0.5%</text>
<line x1="301" y1="251.3" x2="338.3" y2="251.3" stroke="#666" stroke-width="1.4"/>
<line x1="345.3" y1="251.3" x2="384.6" y2="251.3" stroke="#666" stroke-width="1.4"/>
<text transform="translate(320,257.5) scale(0.9,1)" font-size="7.6" text-anchor="middle" fill="#111" stroke="#111" stroke-width="0.22">DMSO</text>
<text transform="translate(364.6,257.5) scale(0.9,1)" font-size="7.6" text-anchor="middle" fill="#111" stroke="#111" stroke-width="0.22">imatinib</text>
<text transform="translate(320.3,266.4) scale(0.9,1)" font-size="7.5" text-anchor="middle" fill="#111" stroke="#111" stroke-width="0.22">Day 4</text>
<text transform="translate(364.6,266.4) scale(0.9,1)" font-size="7.5" text-anchor="middle" fill="#111" stroke="#111" stroke-width="0.22">Day 4</text>
<text transform="translate(385.2,249.9) scale(0.9,1)" font-size="7.9" fill="#111" stroke="#111" stroke-width="0.22">O<tspan font-size="5.6" dy="2">2</tspan></text>
<text transform="translate(308.3,175.8) scale(0.9,1)" font-size="6.8" text-anchor="middle" fill="#111" stroke="#111" stroke-width="0.22">8.81</text>
<text transform="translate(332.3,179) scale(0.9,1)" font-size="6.8" text-anchor="middle" fill="#111" stroke="#111" stroke-width="0.22">7.07</text>
<text transform="translate(356.2,229.9) scale(0.9,1)" font-size="6.8" text-anchor="middle" fill="#111" stroke="#111" stroke-width="0.22">0.36</text>
<text transform="translate(378.5,217.4) scale(0.9,1)" font-size="6.8" text-anchor="middle" fill="#111" stroke="#111" stroke-width="0.22">1.25</text>
<text transform="translate(366.8,205.6) scale(0.95,1)" font-size="6.5" text-anchor="middle" fill="#111" stroke="#111" stroke-width="0.22"><tspan font-style="italic">p</tspan> = 0.16</text>
<line x1="351.4" y1="208.3" x2="384" y2="208.3" stroke="#8a8a8a" stroke-width="1.1"/>
<line x1="301.2" y1="200.3" x2="317.2" y2="200.3" stroke="#000" stroke-width="1.5"/>
<line x1="309.2" y1="195.2" x2="309.2" y2="206.2" stroke="#000" stroke-width="1.5"/>
<line x1="304.8" y1="195.2" x2="313.6" y2="195.2" stroke="#000" stroke-width="1.5"/>
<line x1="304.8" y1="206.2" x2="313.6" y2="206.2" stroke="#000" stroke-width="1.5"/>
<circle cx="309.2" cy="186.3" r="1.4" fill="#000"/>
<circle cx="309.2" cy="191" r="1.4" fill="#000"/>
<circle cx="309.2" cy="207.2" r="1.4" fill="#000"/>
<circle cx="309.2" cy="216" r="1.4" fill="#000"/>
<line x1="324.7" y1="207.61" x2="340.9" y2="207.61" stroke="#000" stroke-width="1.5"/>
<line x1="332.8" y1="200.6" x2="332.8" y2="215.4" stroke="#000" stroke-width="1.5"/>
<line x1="328.6" y1="200.6" x2="337" y2="200.6" stroke="#000" stroke-width="1.5"/>
<line x1="328.6" y1="215.4" x2="337" y2="215.4" stroke="#000" stroke-width="1.5"/>
<path d="M332.7,183L334,185.34L331.4,185.34Z" fill="#000" stroke="#000" stroke-width="0.45"/>
<path d="M332.7,196.5L334,198.84L331.4,198.84Z" fill="#000" stroke="#000" stroke-width="0.45"/>
<path d="M332.7,220.5L334,222.84L331.4,222.84Z" fill="#000" stroke="#000" stroke-width="0.45"/>
<path d="M336.6,218.7L337.9,221.04L335.3,221.04Z" fill="#000" stroke="#000" stroke-width="0.45"/>
<line x1="348.8" y1="235.5" x2="364.5" y2="235.5" stroke="#000" stroke-width="1.5"/>
<circle cx="353" cy="235.8" r="1.3" fill="#000"/>
<circle cx="357.5" cy="234.4" r="1.3" fill="#000"/>
<circle cx="360" cy="235.6" r="1.3" fill="#000"/>
<line x1="372" y1="232.15" x2="388.4" y2="232.15" stroke="#000" stroke-width="1.5"/>
<line x1="380.2" y1="228.5" x2="380.2" y2="235.3" stroke="#000" stroke-width="1.5"/>
<line x1="376.5" y1="228.5" x2="383.9" y2="228.5" stroke="#000" stroke-width="1.5"/>
<line x1="376.5" y1="235.3" x2="383.9" y2="235.3" stroke="#000" stroke-width="1.5"/>
<circle cx="380" cy="221.6" r="1.3" fill="#000"/>
<circle cx="376" cy="235" r="1.3" fill="#000"/>
<circle cx="383" cy="235.6" r="1.3" fill="#000"/>
<text x="464.55" y="155.7" font-size="8.8" text-anchor="middle" fill="#111" stroke="#111" stroke-width="0.2" textLength="103.3" lengthAdjust="spacingAndGlyphs">CML #4 BM total human cells</text>
<line x1="412.9" y1="156.8" x2="516.2" y2="156.8" stroke="#111" stroke-width="0.8"/>
<text transform="translate(413.8,203.8) rotate(-90) scale(0.91,1)" font-size="6.6" text-anchor="middle" fill="#111" stroke="#111" stroke-width="0.22">cell number (x10<tspan font-size="4.2" dy="-2">6</tspan><tspan dy="2">)</tspan></text>
<line x1="429.6" y1="175.2" x2="429.6" y2="235.3" stroke="#111" stroke-width="1.25"/>
<line x1="429.6" y1="234.7" x2="510.8" y2="234.7" stroke="#111" stroke-width="1.35"/>
<line x1="426.6" y1="234.7" x2="429.6" y2="234.7" stroke="#111" stroke-width="0.9"/>
<text transform="translate(425.4,237.29) scale(0.9,1)" font-size="7.2" text-anchor="end" fill="#111" stroke="#111" stroke-width="0.22">0</text>
<line x1="426.6" y1="219.95" x2="429.6" y2="219.95" stroke="#111" stroke-width="0.9"/>
<text transform="translate(425.4,222.54) scale(0.9,1)" font-size="7.2" text-anchor="end" fill="#111" stroke="#111" stroke-width="0.22">0.5</text>
<line x1="426.6" y1="205.2" x2="429.6" y2="205.2" stroke="#111" stroke-width="0.9"/>
<text transform="translate(425.4,207.79) scale(0.9,1)" font-size="7.2" text-anchor="end" fill="#111" stroke="#111" stroke-width="0.22">1.0</text>
<line x1="426.6" y1="190.45" x2="429.6" y2="190.45" stroke="#111" stroke-width="0.9"/>
<text transform="translate(425.4,193.04) scale(0.9,1)" font-size="7.2" text-anchor="end" fill="#111" stroke="#111" stroke-width="0.22">1.5</text>
<line x1="426.6" y1="175.7" x2="429.6" y2="175.7" stroke="#111" stroke-width="0.9"/>
<text transform="translate(425.4,178.29) scale(0.9,1)" font-size="7.2" text-anchor="end" fill="#111" stroke="#111" stroke-width="0.22">2.0</text>
<line x1="440.6" y1="234.7" x2="440.6" y2="237.7" stroke="#111" stroke-width="0.9"/>
<line x1="460.4" y1="234.7" x2="460.4" y2="237.7" stroke="#111" stroke-width="0.9"/>
<line x1="480.8" y1="234.7" x2="480.8" y2="237.7" stroke="#111" stroke-width="0.9"/>
<line x1="500.1" y1="234.7" x2="500.1" y2="237.7" stroke="#111" stroke-width="0.9"/>
<text transform="translate(435.3,245.4) scale(0.9,1)" font-size="7.3" text-anchor="middle" fill="#111" stroke="#111" stroke-width="0.22">21%</text>
<text transform="translate(457.8,245.4) scale(0.9,1)" font-size="7.3" text-anchor="middle" fill="#111" stroke="#111" stroke-width="0.22">0.5%</text>
<text transform="translate(479.4,245.4) scale(0.9,1)" font-size="7.3" text-anchor="middle" fill="#111" stroke="#111" stroke-width="0.22">21%</text>
<text transform="translate(502,245.4) scale(0.9,1)" font-size="7.3" text-anchor="middle" fill="#111" stroke="#111" stroke-width="0.22">0.5%</text>
<line x1="428.5" y1="248.3" x2="465.3" y2="248.3" stroke="#666" stroke-width="1.4"/>
<line x1="472.7" y1="248.3" x2="509.6" y2="248.3" stroke="#666" stroke-width="1.4"/>
<text transform="translate(447.4,255.4) scale(0.9,1)" font-size="7.6" text-anchor="middle" fill="#111" stroke="#111" stroke-width="0.22">DMSO</text>
<text transform="translate(492.2,255.4) scale(0.9,1)" font-size="7.6" text-anchor="middle" fill="#111" stroke="#111" stroke-width="0.22">imatinib</text>
<text transform="translate(447.2,262.9) scale(0.9,1)" font-size="7.5" text-anchor="middle" fill="#111" stroke="#111" stroke-width="0.22">Day 4</text>
<text transform="translate(491.8,262.9) scale(0.9,1)" font-size="7.5" text-anchor="middle" fill="#111" stroke="#111" stroke-width="0.22">Day 4</text>
<text transform="translate(511.2,246.2) scale(0.9,1)" font-size="7.9" fill="#111" stroke="#111" stroke-width="0.22">O<tspan font-size="5.6" dy="2">2</tspan></text>
<text transform="translate(439.4,175.2) scale(0.9,1)" font-size="6.8" text-anchor="middle" fill="#111" stroke="#111" stroke-width="0.22">1.04</text>
<text transform="translate(461.1,181.9) scale(0.9,1)" font-size="6.8" text-anchor="middle" fill="#111" stroke="#111" stroke-width="0.22">0.72</text>
<text transform="translate(481.8,224.3) scale(0.9,1)" font-size="6.8" text-anchor="middle" fill="#111" stroke="#111" stroke-width="0.22">0.05</text>
<text transform="translate(500.6,210.1) scale(0.9,1)" font-size="6.8" text-anchor="middle" fill="#111" stroke="#111" stroke-width="0.22">0.19</text>
<text transform="translate(489.7,197.4) scale(0.95,1)" font-size="6.5" text-anchor="middle" fill="#111" stroke="#111" stroke-width="0.22"><tspan font-style="italic">p</tspan> = 0.17</text>
<line x1="473.4" y1="200.4" x2="506.3" y2="200.4" stroke="#8a8a8a" stroke-width="1"/>
<line x1="433.3" y1="204.12" x2="447.7" y2="204.12" stroke="#000" stroke-width="1.5"/>
<line x1="440.5" y1="198.7" x2="440.5" y2="210.4" stroke="#000" stroke-width="1.5"/>
<line x1="436.4" y1="198.7" x2="444.6" y2="198.7" stroke="#000" stroke-width="1.5"/>
<line x1="436.4" y1="210.4" x2="444.6" y2="210.4" stroke="#000" stroke-width="1.5"/>
<circle cx="440.3" cy="183.9" r="1.4" fill="#000"/>
<circle cx="437.1" cy="201.5" r="1.4" fill="#000"/>
<circle cx="440.3" cy="216" r="1.4" fill="#000"/>
<circle cx="443.8" cy="215.1" r="1.4" fill="#000"/>
<line x1="453.2" y1="213.59" x2="468" y2="213.59" stroke="#000" stroke-width="1.5"/>
<line x1="460.6" y1="207.8" x2="460.6" y2="219.7" stroke="#000" stroke-width="1.5"/>
<line x1="456.7" y1="207.8" x2="464.5" y2="207.8" stroke="#000" stroke-width="1.5"/>
<line x1="456.7" y1="219.7" x2="464.5" y2="219.7" stroke="#000" stroke-width="1.5"/>
<rect x="459.5" y="189.6" width="2.6" height="2.6" fill="#000"/>
<rect x="456.2" y="213" width="2.6" height="2.6" fill="#000"/>
<rect x="462.6" y="220.3" width="2.6" height="2.6" fill="#000"/>
<rect x="459.1" y="223.5" width="2.6" height="2.6" fill="#000"/>
<line x1="473.4" y1="232.9" x2="488.3" y2="232.9" stroke="#000" stroke-width="1.5"/>
<circle cx="478" cy="233" r="1.3" fill="#000"/>
<circle cx="481" cy="232.2" r="1.3" fill="#000"/>
<circle cx="484" cy="233" r="1.3" fill="#000"/>
<line x1="493.8" y1="229.08" x2="508.8" y2="229.08" stroke="#000" stroke-width="1.5"/>
<line x1="501.3" y1="224.6" x2="501.3" y2="233.8" stroke="#000" stroke-width="1.5"/>
<line x1="497.4" y1="224.6" x2="505.2" y2="224.6" stroke="#000" stroke-width="1.5"/>
<line x1="497.4" y1="233.8" x2="505.2" y2="233.8" stroke="#000" stroke-width="1.5"/>
<rect x="500.3" y="215.1" width="2.2" height="2.2" fill="#000"/>
<rect x="497.1" y="232.3" width="2.2" height="2.2" fill="#000"/>
<rect x="503.1" y="232.6" width="2.2" height="2.2" fill="#000"/>
<text transform="translate(1,288.3) scale(0.95,1)" font-size="11.8" font-weight="bold" fill="#000" stroke="#000" stroke-width="0.3">D</text>
<text transform="translate(16.9,307.5) rotate(-90) scale(0.91,1)" font-size="7.2" text-anchor="middle" fill="#111" stroke="#111" stroke-width="0.22">% BCR−ABL</text>
<text transform="translate(24.9,306.5) rotate(-90) scale(0.87,1)" font-size="7.2" text-anchor="middle" fill="#111" stroke="#111" stroke-width="0.22">positive</text>
<text x="94.3" y="285.6" font-size="8.8" text-anchor="middle" fill="#111" stroke="#111" stroke-width="0.2" textLength="29.4" lengthAdjust="spacingAndGlyphs">CML #3</text>
<line x1="79.6" y1="286.7" x2="109" y2="286.7" stroke="#111" stroke-width="0.8"/>
<line x1="44.3" y1="290.6" x2="44.3" y2="329.7" stroke="#111" stroke-width="1.0"/>
<line x1="44.3" y1="329.2" x2="153.6" y2="329.2" stroke="#111" stroke-width="1.0"/>
<line x1="42.3" y1="329.2" x2="44.3" y2="329.2" stroke="#111" stroke-width="0.8"/>
<text transform="translate(41.4,331.76) scale(0.87,1)" font-size="7.1" text-anchor="end" fill="#111" stroke="#111" stroke-width="0.22">0</text>
<line x1="42.3" y1="321.54" x2="44.3" y2="321.54" stroke="#111" stroke-width="0.8"/>
<text transform="translate(41.4,324.1) scale(0.87,1)" font-size="7.1" text-anchor="end" fill="#111" stroke="#111" stroke-width="0.22">20</text>
<line x1="42.3" y1="313.88" x2="44.3" y2="313.88" stroke="#111" stroke-width="0.8"/>
<text transform="translate(41.4,316.44) scale(0.87,1)" font-size="7.1" text-anchor="end" fill="#111" stroke="#111" stroke-width="0.22">40</text>
<line x1="42.3" y1="306.22" x2="44.3" y2="306.22" stroke="#111" stroke-width="0.8"/>
<text transform="translate(41.4,308.78) scale(0.87,1)" font-size="7.1" text-anchor="end" fill="#111" stroke="#111" stroke-width="0.22">60</text>
<line x1="42.3" y1="298.56" x2="44.3" y2="298.56" stroke="#111" stroke-width="0.8"/>
<text transform="translate(41.4,301.12) scale(0.87,1)" font-size="7.1" text-anchor="end" fill="#111" stroke="#111" stroke-width="0.22">80</text>
<line x1="42.3" y1="290.9" x2="44.3" y2="290.9" stroke="#111" stroke-width="0.8"/>
<text transform="translate(41.4,293.46) scale(0.87,1)" font-size="7.1" text-anchor="end" fill="#111" stroke="#111" stroke-width="0.22">100</text>
<line x1="43.1" y1="325.37" x2="44.3" y2="325.37" stroke="#111" stroke-width="0.6"/>
<line x1="43.1" y1="317.71" x2="44.3" y2="317.71" stroke="#111" stroke-width="0.6"/>
<line x1="43.1" y1="310.05" x2="44.3" y2="310.05" stroke="#111" stroke-width="0.6"/>
<line x1="43.1" y1="302.39" x2="44.3" y2="302.39" stroke="#111" stroke-width="0.6"/>
<line x1="43.1" y1="294.73" x2="44.3" y2="294.73" stroke="#111" stroke-width="0.6"/>
<rect x="48.7" y="291.68" width="13.9" height="37.52" fill="#000" stroke="#000" stroke-width="0.8"/>
<line x1="55.65" y1="291.28" x2="55.65" y2="290.98" stroke="#000" stroke-width="0.8"/>
<line x1="54.85" y1="290.98" x2="56.45" y2="290.98" stroke="#000" stroke-width="0.6"/>
<rect x="70.8" y="292.14" width="13.7" height="37.06" fill="#000" stroke="#000" stroke-width="0.8"/>
<line x1="77.65" y1="291.74" x2="77.65" y2="291.14" stroke="#000" stroke-width="0.8"/>
<line x1="76.85" y1="291.14" x2="78.45" y2="291.14" stroke="#000" stroke-width="0.6"/>
<rect x="92.3" y="292.14" width="14.1" height="37.06" fill="#fff" stroke="#000" stroke-width="0.8"/>
<line x1="99.35" y1="291.74" x2="99.35" y2="291.14" stroke="#000" stroke-width="0.8"/>
<line x1="98.55" y1="291.14" x2="100.15" y2="291.14" stroke="#000" stroke-width="0.6"/>
<rect x="114.1" y="292.07" width="14.1" height="37.13" fill="#000" stroke="#000" stroke-width="0.8"/>
<line x1="121.15" y1="291.67" x2="121.15" y2="291.17" stroke="#000" stroke-width="0.8"/>
<line x1="120.35" y1="291.17" x2="121.95" y2="291.17" stroke="#000" stroke-width="0.6"/>
<rect x="136" y="292.07" width="14" height="37.13" fill="#fff" stroke="#000" stroke-width="0.8"/>
<line x1="143" y1="291.67" x2="143" y2="291.27" stroke="#000" stroke-width="0.8"/>
<line x1="142.2" y1="291.27" x2="143.8" y2="291.27" stroke="#000" stroke-width="0.6"/>
<line x1="74.6" y1="333.9" x2="107" y2="333.9" stroke="#222" stroke-width="1.0"/>
<line x1="116.2" y1="333.9" x2="153.2" y2="333.9" stroke="#222" stroke-width="1.0"/>
<text transform="translate(89,341.6) scale(0.9,1)" font-size="7.4" text-anchor="middle" fill="#111" stroke="#111" stroke-width="0.22">DMSO</text>
<text transform="translate(134,341.6) scale(0.9,1)" font-size="7.4" text-anchor="middle" fill="#111" stroke="#111" stroke-width="0.22">imatinib</text>
<text transform="translate(56.8,337.9) scale(0.9,1)" font-size="7.3" text-anchor="middle" fill="#111" stroke="#111" stroke-width="0.22">Pretreat</text>
<text x="221.95" y="285.6" font-size="8.8" text-anchor="middle" fill="#111" stroke="#111" stroke-width="0.2" textLength="28.7" lengthAdjust="spacingAndGlyphs">CML #4</text>
<line x1="207.6" y1="286.7" x2="236.3" y2="286.7" stroke="#111" stroke-width="0.8"/>
<line x1="174.3" y1="290.6" x2="174.3" y2="329.7" stroke="#111" stroke-width="1.0"/>
<line x1="174.3" y1="329.2" x2="259.7" y2="329.2" stroke="#111" stroke-width="1.0"/>
<line x1="172.3" y1="329.2" x2="174.3" y2="329.2" stroke="#111" stroke-width="0.8"/>
<text transform="translate(171.4,331.76) scale(0.87,1)" font-size="7.1" text-anchor="end" fill="#111" stroke="#111" stroke-width="0.22">0</text>
<line x1="172.3" y1="321.54" x2="174.3" y2="321.54" stroke="#111" stroke-width="0.8"/>
<text transform="translate(171.4,324.1) scale(0.87,1)" font-size="7.1" text-anchor="end" fill="#111" stroke="#111" stroke-width="0.22">20</text>
<line x1="172.3" y1="313.88" x2="174.3" y2="313.88" stroke="#111" stroke-width="0.8"/>
<text transform="translate(171.4,316.44) scale(0.87,1)" font-size="7.1" text-anchor="end" fill="#111" stroke="#111" stroke-width="0.22">40</text>
<line x1="172.3" y1="306.22" x2="174.3" y2="306.22" stroke="#111" stroke-width="0.8"/>
<text transform="translate(171.4,308.78) scale(0.87,1)" font-size="7.1" text-anchor="end" fill="#111" stroke="#111" stroke-width="0.22">60</text>
<line x1="172.3" y1="298.56" x2="174.3" y2="298.56" stroke="#111" stroke-width="0.8"/>
<text transform="translate(171.4,301.12) scale(0.87,1)" font-size="7.1" text-anchor="end" fill="#111" stroke="#111" stroke-width="0.22">80</text>
<line x1="172.3" y1="290.9" x2="174.3" y2="290.9" stroke="#111" stroke-width="0.8"/>
<text transform="translate(171.4,293.46) scale(0.87,1)" font-size="7.1" text-anchor="end" fill="#111" stroke="#111" stroke-width="0.22">100</text>
<line x1="173.1" y1="325.37" x2="174.3" y2="325.37" stroke="#111" stroke-width="0.6"/>
<line x1="173.1" y1="317.71" x2="174.3" y2="317.71" stroke="#111" stroke-width="0.6"/>
<line x1="173.1" y1="310.05" x2="174.3" y2="310.05" stroke="#111" stroke-width="0.6"/>
<line x1="173.1" y1="302.39" x2="174.3" y2="302.39" stroke="#111" stroke-width="0.6"/>
<line x1="173.1" y1="294.73" x2="174.3" y2="294.73" stroke="#111" stroke-width="0.6"/>
<rect x="178.4" y="292.37" width="13.5" height="36.83" fill="#000" stroke="#000" stroke-width="0.8"/>
<line x1="185.15" y1="291.97" x2="185.15" y2="291.37" stroke="#000" stroke-width="0.8"/>
<line x1="184.35" y1="291.37" x2="185.95" y2="291.37" stroke="#000" stroke-width="0.6"/>
<rect x="199.2" y="292.76" width="13.9" height="36.44" fill="#fff" stroke="#000" stroke-width="0.8"/>
<line x1="206.15" y1="292.36" x2="206.15" y2="291.76" stroke="#000" stroke-width="0.8"/>
<line x1="205.35" y1="291.76" x2="206.95" y2="291.76" stroke="#000" stroke-width="0.6"/>
<rect x="220.9" y="302.22" width="13.1" height="26.98" fill="#000" stroke="#000" stroke-width="0.8"/>
<line x1="227.45" y1="301.82" x2="227.45" y2="296.42" stroke="#000" stroke-width="0.8"/>
<line x1="226.65" y1="296.42" x2="228.25" y2="296.42" stroke="#000" stroke-width="0.6"/>
<rect x="241.2" y="302.22" width="14.1" height="26.98" fill="#fff" stroke="#000" stroke-width="0.8"/>
<line x1="248.25" y1="301.82" x2="248.25" y2="294.82" stroke="#000" stroke-width="0.8"/>
<line x1="247.45" y1="294.82" x2="249.05" y2="294.82" stroke="#000" stroke-width="0.6"/>
<line x1="176.1" y1="333.9" x2="212.5" y2="333.9" stroke="#222" stroke-width="1.0"/>
<line x1="220" y1="333.9" x2="256.2" y2="333.9" stroke="#222" stroke-width="1.0"/>
<text transform="translate(193.3,341.6) scale(0.9,1)" font-size="7.4" text-anchor="middle" fill="#111" stroke="#111" stroke-width="0.22">DMSO</text>
<text transform="translate(237,341.6) scale(0.9,1)" font-size="7.4" text-anchor="middle" fill="#111" stroke="#111" stroke-width="0.22">imatinib</text>
<rect x="266.4" y="293.7" width="17.7" height="7.7" fill="#fff" stroke="#666" stroke-width="0.8"/>
<text transform="translate(275.25,300.2) scale(0.9,1)" font-size="8.3" text-anchor="middle" fill="#111" stroke="#111" stroke-width="0.22">21%</text>
<rect x="266.4" y="303.6" width="17.7" height="7.7" fill="#000" stroke="#000" stroke-width="0.8"/>
<text transform="translate(275.25,310.2) scale(0.9,1)" font-size="8.3" text-anchor="middle" fill="#fff" stroke="#fff" stroke-width="0.22">0.5%</text>
</g>
</svg>
</body></html>
